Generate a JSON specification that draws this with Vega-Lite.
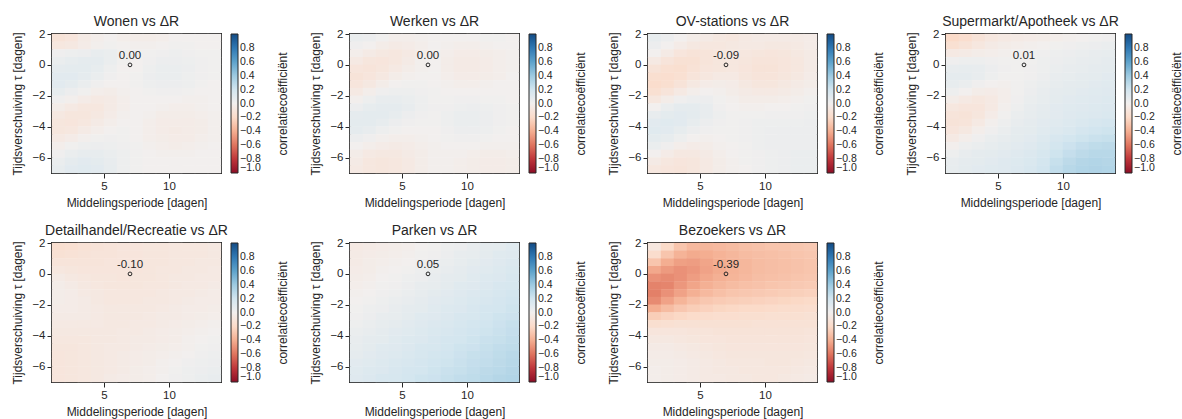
{
  "$schema": "https://vega.github.io/schema/vega-lite/v6.json",
  "padding": {"left": 10, "top": 14, "right": 5, "bottom": 5},
  "background": "white",
  "datasets": {
    "ann": [
      {"p":"W","x":7,"y":0,"t":"0.00"},
      {"p":"K","x":7,"y":0,"t":"0.00"},
      {"p":"O","x":7,"y":0,"t":"-0.09"},
      {"p":"S","x":7,"y":0,"t":"0.01"},
      {"p":"D","x":7,"y":0,"t":"-0.10"},
      {"p":"P","x":7,"y":0,"t":"0.05"},
      {"p":"B","x":7,"y":0,"t":"-0.39"}
    ],
    "grid": [
      {"p":"W","y":1.75,"x":[1.5,2.5,3.5,4.5,5.5,6.5,7.5,8.5,9.5,10.5,11.5,12.5,13.5],"r":[-0.12,-0.10,-0.05,-0.02,0,-0.02,-0.03,-0.03,-0.02,0,0,0,0]},
      {"p":"W","y":1.25,"x":[1.5,2.5,3.5,4.5,5.5,6.5,7.5,8.5,9.5,10.5,11.5,12.5,13.5],"r":[-0.08,-0.07,-0.04,-0.01,0.01,0,-0.01,-0.01,0,0.01,0.01,0,0]},
      {"p":"W","y":0.75,"x":[1.5,2.5,3.5,4.5,5.5,6.5,7.5,8.5,9.5,10.5,11.5,12.5,13.5],"r":[0.02,0.03,0.04,0.06,0.05,0.02,0.01,0.01,0.02,0.03,0.02,0.01,0.01]},
      {"p":"W","y":0.25,"x":[1.5,2.5,3.5,4.5,5.5,6.5,7.5,8.5,9.5,10.5,11.5,12.5,13.5],"r":[0.05,0.07,0.08,0.08,0.05,0.01,0,0.02,0.04,0.04,0.03,0.02,0.01]},
      {"p":"W","y":-0.25,"x":[1.5,2.5,3.5,4.5,5.5,6.5,7.5,8.5,9.5,10.5,11.5,12.5,13.5],"r":[0.08,0.09,0.09,0.07,0.03,0,0,0.03,0.05,0.05,0.04,0.02,0.01]},
      {"p":"W","y":-0.75,"x":[1.5,2.5,3.5,4.5,5.5,6.5,7.5,8.5,9.5,10.5,11.5,12.5,13.5],"r":[0.10,0.10,0.08,0.05,0.02,0,0.01,0.04,0.05,0.05,0.03,0.02,0.01]},
      {"p":"W","y":-1.25,"x":[1.5,2.5,3.5,4.5,5.5,6.5,7.5,8.5,9.5,10.5,11.5,12.5,13.5],"r":[0.10,0.08,0.05,0.02,0,0,0.01,0.03,0.04,0.04,0.03,0.01,0]},
      {"p":"W","y":-1.75,"x":[1.5,2.5,3.5,4.5,5.5,6.5,7.5,8.5,9.5,10.5,11.5,12.5,13.5],"r":[0.07,0.04,0.01,-0.02,-0.03,-0.01,0,0.01,0.02,0.02,0.01,0,0]},
      {"p":"W","y":-2.25,"x":[1.5,2.5,3.5,4.5,5.5,6.5,7.5,8.5,9.5,10.5,11.5,12.5,13.5],"r":[0.02,-0.01,-0.04,-0.06,-0.05,-0.02,0,0,0,0,-0.01,-0.01,0]},
      {"p":"W","y":-2.75,"x":[1.5,2.5,3.5,4.5,5.5,6.5,7.5,8.5,9.5,10.5,11.5,12.5,13.5],"r":[-0.03,-0.06,-0.08,-0.08,-0.05,-0.02,0,0,-0.01,-0.02,-0.02,-0.01,0]},
      {"p":"W","y":-3.25,"x":[1.5,2.5,3.5,4.5,5.5,6.5,7.5,8.5,9.5,10.5,11.5,12.5,13.5],"r":[-0.07,-0.09,-0.09,-0.07,-0.04,-0.01,0,-0.01,-0.03,-0.03,-0.03,-0.02,-0.01]},
      {"p":"W","y":-3.75,"x":[1.5,2.5,3.5,4.5,5.5,6.5,7.5,8.5,9.5,10.5,11.5,12.5,13.5],"r":[-0.09,-0.10,-0.08,-0.05,-0.02,0,0,-0.02,-0.04,-0.04,-0.04,-0.03,-0.01]},
      {"p":"W","y":-4.25,"x":[1.5,2.5,3.5,4.5,5.5,6.5,7.5,8.5,9.5,10.5,11.5,12.5,13.5],"r":[-0.09,-0.08,-0.05,-0.02,0,0.01,0,-0.02,-0.04,-0.05,-0.04,-0.03,-0.01]},
      {"p":"W","y":-4.75,"x":[1.5,2.5,3.5,4.5,5.5,6.5,7.5,8.5,9.5,10.5,11.5,12.5,13.5],"r":[-0.06,-0.04,-0.01,0.01,0.02,0.01,0,-0.02,-0.03,-0.04,-0.04,-0.02,-0.01]},
      {"p":"W","y":-5.25,"x":[1.5,2.5,3.5,4.5,5.5,6.5,7.5,8.5,9.5,10.5,11.5,12.5,13.5],"r":[-0.02,0.01,0.03,0.04,0.03,0.02,0.01,-0.01,-0.02,-0.03,-0.02,-0.01,0]},
      {"p":"W","y":-5.75,"x":[1.5,2.5,3.5,4.5,5.5,6.5,7.5,8.5,9.5,10.5,11.5,12.5,13.5],"r":[0.02,0.05,0.07,0.07,0.05,0.03,0.01,0,-0.01,-0.01,-0.01,0,0]},
      {"p":"W","y":-6.25,"x":[1.5,2.5,3.5,4.5,5.5,6.5,7.5,8.5,9.5,10.5,11.5,12.5,13.5],"r":[0.05,0.08,0.10,0.09,0.06,0.03,0.01,0,0,0,0,0,0]},
      {"p":"W","y":-6.75,"x":[1.5,2.5,3.5,4.5,5.5,6.5,7.5,8.5,9.5,10.5,11.5,12.5,13.5],"r":[0.07,0.10,0.11,0.10,0.07,0.03,0.01,0,0,0,0,0,0]},

      {"p":"K","y":1.75,"x":[1.5,2.5,3.5,4.5,5.5,6.5,7.5,8.5,9.5,10.5,11.5,12.5,13.5],"r":[0.05,0.04,0.01,-0.02,-0.02,-0.01,0,0,0,0,0.01,0.01,0]},
      {"p":"K","y":1.25,"x":[1.5,2.5,3.5,4.5,5.5,6.5,7.5,8.5,9.5,10.5,11.5,12.5,13.5],"r":[0.02,0,-0.03,-0.05,-0.04,-0.02,0,-0.01,-0.02,-0.02,-0.01,0,0]},
      {"p":"K","y":0.75,"x":[1.5,2.5,3.5,4.5,5.5,6.5,7.5,8.5,9.5,10.5,11.5,12.5,13.5],"r":[-0.02,-0.05,-0.07,-0.08,-0.06,-0.03,-0.01,-0.02,-0.04,-0.04,-0.03,-0.02,-0.01]},
      {"p":"K","y":0.25,"x":[1.5,2.5,3.5,4.5,5.5,6.5,7.5,8.5,9.5,10.5,11.5,12.5,13.5],"r":[-0.06,-0.09,-0.10,-0.08,-0.05,-0.01,0,-0.03,-0.05,-0.05,-0.04,-0.02,-0.01]},
      {"p":"K","y":-0.25,"x":[1.5,2.5,3.5,4.5,5.5,6.5,7.5,8.5,9.5,10.5,11.5,12.5,13.5],"r":[-0.10,-0.11,-0.09,-0.06,-0.03,-0.01,0,-0.03,-0.05,-0.05,-0.04,-0.02,-0.01]},
      {"p":"K","y":-0.75,"x":[1.5,2.5,3.5,4.5,5.5,6.5,7.5,8.5,9.5,10.5,11.5,12.5,13.5],"r":[-0.12,-0.10,-0.07,-0.03,-0.01,0,0,-0.02,-0.04,-0.04,-0.03,-0.02,0]},
      {"p":"K","y":-1.25,"x":[1.5,2.5,3.5,4.5,5.5,6.5,7.5,8.5,9.5,10.5,11.5,12.5,13.5],"r":[-0.10,-0.07,-0.03,0,0.01,0.01,0,-0.01,-0.02,-0.02,-0.01,0,0]},
      {"p":"K","y":-1.75,"x":[1.5,2.5,3.5,4.5,5.5,6.5,7.5,8.5,9.5,10.5,11.5,12.5,13.5],"r":[-0.06,-0.02,0.02,0.03,0.03,0.02,0.01,0,0,0,0,0,0]},
      {"p":"K","y":-2.25,"x":[1.5,2.5,3.5,4.5,5.5,6.5,7.5,8.5,9.5,10.5,11.5,12.5,13.5],"r":[-0.01,0.03,0.06,0.06,0.05,0.03,0.01,0.01,0.02,0.02,0.01,0.01,0]},
      {"p":"K","y":-2.75,"x":[1.5,2.5,3.5,4.5,5.5,6.5,7.5,8.5,9.5,10.5,11.5,12.5,13.5],"r":[0.04,0.07,0.08,0.08,0.06,0.03,0.02,0.02,0.03,0.04,0.03,0.02,0.01]},
      {"p":"K","y":-3.25,"x":[1.5,2.5,3.5,4.5,5.5,6.5,7.5,8.5,9.5,10.5,11.5,12.5,13.5],"r":[0.08,0.09,0.09,0.07,0.04,0.02,0.01,0.03,0.05,0.05,0.04,0.02,0.01]},
      {"p":"K","y":-3.75,"x":[1.5,2.5,3.5,4.5,5.5,6.5,7.5,8.5,9.5,10.5,11.5,12.5,13.5],"r":[0.09,0.09,0.07,0.04,0.02,0.01,0.01,0.03,0.05,0.05,0.04,0.02,0.01]},
      {"p":"K","y":-4.25,"x":[1.5,2.5,3.5,4.5,5.5,6.5,7.5,8.5,9.5,10.5,11.5,12.5,13.5],"r":[0.08,0.06,0.03,0.01,0,0,0,0.02,0.04,0.04,0.03,0.01,0]},
      {"p":"K","y":-4.75,"x":[1.5,2.5,3.5,4.5,5.5,6.5,7.5,8.5,9.5,10.5,11.5,12.5,13.5],"r":[0.04,0.02,-0.01,-0.02,-0.02,-0.01,0,0.01,0.02,0.02,0.01,0,0]},
      {"p":"K","y":-5.25,"x":[1.5,2.5,3.5,4.5,5.5,6.5,7.5,8.5,9.5,10.5,11.5,12.5,13.5],"r":[0,-0.02,-0.04,-0.05,-0.04,-0.02,-0.01,0,0,0,-0.01,-0.01,-0.01]},
      {"p":"K","y":-5.75,"x":[1.5,2.5,3.5,4.5,5.5,6.5,7.5,8.5,9.5,10.5,11.5,12.5,13.5],"r":[-0.03,-0.06,-0.07,-0.07,-0.05,-0.03,-0.01,-0.01,-0.01,-0.02,-0.03,-0.03,-0.02]},
      {"p":"K","y":-6.25,"x":[1.5,2.5,3.5,4.5,5.5,6.5,7.5,8.5,9.5,10.5,11.5,12.5,13.5],"r":[-0.05,-0.08,-0.09,-0.08,-0.06,-0.03,-0.01,-0.01,-0.02,-0.03,-0.04,-0.04,-0.03]},
      {"p":"K","y":-6.75,"x":[1.5,2.5,3.5,4.5,5.5,6.5,7.5,8.5,9.5,10.5,11.5,12.5,13.5],"r":[-0.06,-0.08,-0.09,-0.08,-0.06,-0.03,-0.01,-0.01,-0.02,-0.03,-0.04,-0.04,-0.03]},

      {"p":"O","y":1.75,"x":[1.5,2.5,3.5,4.5,5.5,6.5,7.5,8.5,9.5,10.5,11.5,12.5,13.5],"r":[0.07,0.04,0,-0.03,-0.05,-0.07,-0.08,-0.06,-0.05,-0.05,-0.05,-0.05,-0.04]},
      {"p":"O","y":1.25,"x":[1.5,2.5,3.5,4.5,5.5,6.5,7.5,8.5,9.5,10.5,11.5,12.5,13.5],"r":[0.04,0,-0.04,-0.07,-0.08,-0.08,-0.07,-0.06,-0.06,-0.07,-0.07,-0.06,-0.04]},
      {"p":"O","y":0.75,"x":[1.5,2.5,3.5,4.5,5.5,6.5,7.5,8.5,9.5,10.5,11.5,12.5,13.5],"r":[0,-0.05,-0.10,-0.12,-0.11,-0.09,-0.07,-0.08,-0.09,-0.10,-0.09,-0.07,-0.05]},
      {"p":"O","y":0.25,"x":[1.5,2.5,3.5,4.5,5.5,6.5,7.5,8.5,9.5,10.5,11.5,12.5,13.5],"r":[-0.06,-0.11,-0.14,-0.14,-0.11,-0.09,-0.08,-0.09,-0.11,-0.11,-0.10,-0.08,-0.05]},
      {"p":"O","y":-0.25,"x":[1.5,2.5,3.5,4.5,5.5,6.5,7.5,8.5,9.5,10.5,11.5,12.5,13.5],"r":[-0.12,-0.15,-0.16,-0.13,-0.10,-0.09,-0.08,-0.10,-0.12,-0.12,-0.10,-0.08,-0.05]},
      {"p":"O","y":-0.75,"x":[1.5,2.5,3.5,4.5,5.5,6.5,7.5,8.5,9.5,10.5,11.5,12.5,13.5],"r":[-0.16,-0.17,-0.15,-0.11,-0.08,-0.06,-0.06,-0.09,-0.11,-0.11,-0.09,-0.07,-0.04]},
      {"p":"O","y":-1.25,"x":[1.5,2.5,3.5,4.5,5.5,6.5,7.5,8.5,9.5,10.5,11.5,12.5,13.5],"r":[-0.18,-0.16,-0.12,-0.07,-0.04,-0.03,-0.04,-0.07,-0.09,-0.09,-0.07,-0.05,-0.03]},
      {"p":"O","y":-1.75,"x":[1.5,2.5,3.5,4.5,5.5,6.5,7.5,8.5,9.5,10.5,11.5,12.5,13.5],"r":[-0.15,-0.11,-0.06,-0.02,0,-0.01,-0.03,-0.05,-0.06,-0.06,-0.05,-0.03,-0.01]},
      {"p":"O","y":-2.25,"x":[1.5,2.5,3.5,4.5,5.5,6.5,7.5,8.5,9.5,10.5,11.5,12.5,13.5],"r":[-0.08,-0.03,0.02,0.04,0.04,0.01,-0.01,-0.03,-0.03,-0.03,-0.02,-0.01,0.01]},
      {"p":"O","y":-2.75,"x":[1.5,2.5,3.5,4.5,5.5,6.5,7.5,8.5,9.5,10.5,11.5,12.5,13.5],"r":[0,0.05,0.08,0.08,0.06,0.02,0,-0.01,-0.01,0,0,0.01,0.02]},
      {"p":"O","y":-3.25,"x":[1.5,2.5,3.5,4.5,5.5,6.5,7.5,8.5,9.5,10.5,11.5,12.5,13.5],"r":[0.06,0.09,0.10,0.09,0.06,0.03,0.01,0.01,0.01,0.02,0.02,0.02,0.03]},
      {"p":"O","y":-3.75,"x":[1.5,2.5,3.5,4.5,5.5,6.5,7.5,8.5,9.5,10.5,11.5,12.5,13.5],"r":[0.10,0.11,0.10,0.07,0.04,0.02,0.01,0.02,0.03,0.03,0.03,0.03,0.04]},
      {"p":"O","y":-4.25,"x":[1.5,2.5,3.5,4.5,5.5,6.5,7.5,8.5,9.5,10.5,11.5,12.5,13.5],"r":[0.11,0.10,0.07,0.04,0.02,0.01,0.01,0.02,0.03,0.04,0.04,0.04,0.04]},
      {"p":"O","y":-4.75,"x":[1.5,2.5,3.5,4.5,5.5,6.5,7.5,8.5,9.5,10.5,11.5,12.5,13.5],"r":[0.09,0.07,0.03,0,-0.01,0,0.01,0.02,0.03,0.04,0.04,0.04,0.04]},
      {"p":"O","y":-5.25,"x":[1.5,2.5,3.5,4.5,5.5,6.5,7.5,8.5,9.5,10.5,11.5,12.5,13.5],"r":[0.05,0.02,-0.02,-0.04,-0.03,-0.01,0,0.01,0.03,0.04,0.04,0.04,0.04]},
      {"p":"O","y":-5.75,"x":[1.5,2.5,3.5,4.5,5.5,6.5,7.5,8.5,9.5,10.5,11.5,12.5,13.5],"r":[0,-0.04,-0.07,-0.07,-0.05,-0.02,0,0.01,0.02,0.03,0.04,0.05,0.05]},
      {"p":"O","y":-6.25,"x":[1.5,2.5,3.5,4.5,5.5,6.5,7.5,8.5,9.5,10.5,11.5,12.5,13.5],"r":[-0.05,-0.08,-0.10,-0.09,-0.06,-0.03,-0.01,0.01,0.02,0.03,0.04,0.05,0.05]},
      {"p":"O","y":-6.75,"x":[1.5,2.5,3.5,4.5,5.5,6.5,7.5,8.5,9.5,10.5,11.5,12.5,13.5],"r":[-0.08,-0.10,-0.11,-0.09,-0.06,-0.03,-0.01,0,0.02,0.03,0.04,0.05,0.05]},

      {"p":"S","y":1.75,"x":[1.5,2.5,3.5,4.5,5.5,6.5,7.5,8.5,9.5,10.5,11.5,12.5,13.5],"r":[-0.20,-0.17,-0.12,-0.08,-0.06,-0.05,-0.04,-0.03,-0.02,-0.01,0,0.01,0.02]},
      {"p":"S","y":1.25,"x":[1.5,2.5,3.5,4.5,5.5,6.5,7.5,8.5,9.5,10.5,11.5,12.5,13.5],"r":[-0.15,-0.12,-0.08,-0.05,-0.03,-0.02,-0.01,0,0.01,0.02,0.03,0.04,0.05]},
      {"p":"S","y":0.75,"x":[1.5,2.5,3.5,4.5,5.5,6.5,7.5,8.5,9.5,10.5,11.5,12.5,13.5],"r":[-0.06,-0.05,-0.03,-0.02,-0.01,0,0.01,0.02,0.03,0.04,0.05,0.06,0.07]},
      {"p":"S","y":0.25,"x":[1.5,2.5,3.5,4.5,5.5,6.5,7.5,8.5,9.5,10.5,11.5,12.5,13.5],"r":[0.02,0.03,0.03,0.02,0.01,0.01,0.01,0.03,0.04,0.05,0.06,0.07,0.08]},
      {"p":"S","y":-0.25,"x":[1.5,2.5,3.5,4.5,5.5,6.5,7.5,8.5,9.5,10.5,11.5,12.5,13.5],"r":[0.06,0.07,0.06,0.04,0.02,0.01,0.02,0.03,0.05,0.06,0.07,0.08,0.09]},
      {"p":"S","y":-0.75,"x":[1.5,2.5,3.5,4.5,5.5,6.5,7.5,8.5,9.5,10.5,11.5,12.5,13.5],"r":[0.08,0.08,0.06,0.03,0.01,0.01,0.02,0.04,0.06,0.07,0.08,0.09,0.10]},
      {"p":"S","y":-1.25,"x":[1.5,2.5,3.5,4.5,5.5,6.5,7.5,8.5,9.5,10.5,11.5,12.5,13.5],"r":[0.07,0.05,0.02,0,-0.01,0.01,0.03,0.05,0.07,0.08,0.09,0.10,0.11]},
      {"p":"S","y":-1.75,"x":[1.5,2.5,3.5,4.5,5.5,6.5,7.5,8.5,9.5,10.5,11.5,12.5,13.5],"r":[0.03,0,-0.03,-0.04,-0.02,0.01,0.04,0.06,0.08,0.09,0.10,0.11,0.12]},
      {"p":"S","y":-2.25,"x":[1.5,2.5,3.5,4.5,5.5,6.5,7.5,8.5,9.5,10.5,11.5,12.5,13.5],"r":[-0.03,-0.06,-0.08,-0.06,-0.02,0.02,0.05,0.07,0.09,0.10,0.11,0.12,0.13]},
      {"p":"S","y":-2.75,"x":[1.5,2.5,3.5,4.5,5.5,6.5,7.5,8.5,9.5,10.5,11.5,12.5,13.5],"r":[-0.08,-0.10,-0.10,-0.06,-0.01,0.03,0.06,0.08,0.10,0.11,0.12,0.13,0.14]},
      {"p":"S","y":-3.25,"x":[1.5,2.5,3.5,4.5,5.5,6.5,7.5,8.5,9.5,10.5,11.5,12.5,13.5],"r":[-0.11,-0.12,-0.09,-0.04,0.01,0.05,0.07,0.09,0.10,0.12,0.13,0.14,0.15]},
      {"p":"S","y":-3.75,"x":[1.5,2.5,3.5,4.5,5.5,6.5,7.5,8.5,9.5,10.5,11.5,12.5,13.5],"r":[-0.12,-0.11,-0.06,-0.01,0.03,0.06,0.08,0.10,0.11,0.13,0.15,0.17,0.18]},
      {"p":"S","y":-4.25,"x":[1.5,2.5,3.5,4.5,5.5,6.5,7.5,8.5,9.5,10.5,11.5,12.5,13.5],"r":[-0.10,-0.07,-0.02,0.02,0.05,0.08,0.09,0.11,0.13,0.15,0.18,0.20,0.21]},
      {"p":"S","y":-4.75,"x":[1.5,2.5,3.5,4.5,5.5,6.5,7.5,8.5,9.5,10.5,11.5,12.5,13.5],"r":[-0.06,-0.02,0.02,0.05,0.07,0.09,0.10,0.13,0.16,0.19,0.21,0.23,0.24]},
      {"p":"S","y":-5.25,"x":[1.5,2.5,3.5,4.5,5.5,6.5,7.5,8.5,9.5,10.5,11.5,12.5,13.5],"r":[-0.01,0.03,0.05,0.07,0.09,0.10,0.12,0.15,0.19,0.22,0.25,0.27,0.28]},
      {"p":"S","y":-5.75,"x":[1.5,2.5,3.5,4.5,5.5,6.5,7.5,8.5,9.5,10.5,11.5,12.5,13.5],"r":[0.03,0.06,0.08,0.09,0.10,0.12,0.14,0.17,0.21,0.25,0.28,0.30,0.30]},
      {"p":"S","y":-6.25,"x":[1.5,2.5,3.5,4.5,5.5,6.5,7.5,8.5,9.5,10.5,11.5,12.5,13.5],"r":[0.06,0.08,0.09,0.10,0.12,0.13,0.15,0.19,0.24,0.28,0.31,0.32,0.31]},
      {"p":"S","y":-6.75,"x":[1.5,2.5,3.5,4.5,5.5,6.5,7.5,8.5,9.5,10.5,11.5,12.5,13.5],"r":[0.07,0.09,0.10,0.11,0.12,0.14,0.16,0.20,0.26,0.30,0.32,0.33,0.32]},

      {"p":"D","y":1.75,"x":[1.5,2.5,3.5,4.5,5.5,6.5,7.5,8.5,9.5,10.5,11.5,12.5,13.5],"r":[-0.16,-0.15,-0.13,-0.12,-0.11,-0.10,-0.10,-0.09,-0.09,-0.08,-0.08,-0.08,-0.07]},
      {"p":"D","y":1.25,"x":[1.5,2.5,3.5,4.5,5.5,6.5,7.5,8.5,9.5,10.5,11.5,12.5,13.5],"r":[-0.14,-0.13,-0.12,-0.11,-0.11,-0.10,-0.10,-0.09,-0.09,-0.08,-0.08,-0.08,-0.07]},
      {"p":"D","y":0.75,"x":[1.5,2.5,3.5,4.5,5.5,6.5,7.5,8.5,9.5,10.5,11.5,12.5,13.5],"r":[-0.11,-0.11,-0.11,-0.11,-0.10,-0.10,-0.10,-0.09,-0.09,-0.08,-0.08,-0.07,-0.07]},
      {"p":"D","y":0.25,"x":[1.5,2.5,3.5,4.5,5.5,6.5,7.5,8.5,9.5,10.5,11.5,12.5,13.5],"r":[-0.08,-0.09,-0.10,-0.10,-0.10,-0.10,-0.10,-0.09,-0.08,-0.08,-0.07,-0.07,-0.06]},
      {"p":"D","y":-0.25,"x":[1.5,2.5,3.5,4.5,5.5,6.5,7.5,8.5,9.5,10.5,11.5,12.5,13.5],"r":[-0.05,-0.07,-0.08,-0.09,-0.09,-0.10,-0.09,-0.09,-0.08,-0.07,-0.07,-0.06,-0.06]},
      {"p":"D","y":-0.75,"x":[1.5,2.5,3.5,4.5,5.5,6.5,7.5,8.5,9.5,10.5,11.5,12.5,13.5],"r":[-0.03,-0.05,-0.07,-0.08,-0.09,-0.09,-0.09,-0.08,-0.08,-0.07,-0.06,-0.06,-0.05]},
      {"p":"D","y":-1.25,"x":[1.5,2.5,3.5,4.5,5.5,6.5,7.5,8.5,9.5,10.5,11.5,12.5,13.5],"r":[-0.03,-0.04,-0.06,-0.07,-0.08,-0.08,-0.08,-0.08,-0.07,-0.06,-0.06,-0.05,-0.04]},
      {"p":"D","y":-1.75,"x":[1.5,2.5,3.5,4.5,5.5,6.5,7.5,8.5,9.5,10.5,11.5,12.5,13.5],"r":[-0.03,-0.04,-0.05,-0.07,-0.08,-0.08,-0.08,-0.07,-0.07,-0.06,-0.05,-0.04,-0.04]},
      {"p":"D","y":-2.25,"x":[1.5,2.5,3.5,4.5,5.5,6.5,7.5,8.5,9.5,10.5,11.5,12.5,13.5],"r":[-0.04,-0.04,-0.05,-0.06,-0.07,-0.07,-0.07,-0.07,-0.06,-0.05,-0.04,-0.04,-0.03]},
      {"p":"D","y":-2.75,"x":[1.5,2.5,3.5,4.5,5.5,6.5,7.5,8.5,9.5,10.5,11.5,12.5,13.5],"r":[-0.05,-0.05,-0.05,-0.06,-0.07,-0.07,-0.07,-0.06,-0.05,-0.05,-0.04,-0.03,-0.02]},
      {"p":"D","y":-3.25,"x":[1.5,2.5,3.5,4.5,5.5,6.5,7.5,8.5,9.5,10.5,11.5,12.5,13.5],"r":[-0.06,-0.06,-0.06,-0.06,-0.07,-0.07,-0.06,-0.06,-0.05,-0.04,-0.03,-0.02,-0.01]},
      {"p":"D","y":-3.75,"x":[1.5,2.5,3.5,4.5,5.5,6.5,7.5,8.5,9.5,10.5,11.5,12.5,13.5],"r":[-0.07,-0.07,-0.07,-0.07,-0.07,-0.06,-0.06,-0.05,-0.04,-0.03,-0.02,-0.01,0]},
      {"p":"D","y":-4.25,"x":[1.5,2.5,3.5,4.5,5.5,6.5,7.5,8.5,9.5,10.5,11.5,12.5,13.5],"r":[-0.08,-0.08,-0.08,-0.07,-0.07,-0.06,-0.05,-0.05,-0.04,-0.03,-0.01,0,0.01]},
      {"p":"D","y":-4.75,"x":[1.5,2.5,3.5,4.5,5.5,6.5,7.5,8.5,9.5,10.5,11.5,12.5,13.5],"r":[-0.09,-0.09,-0.08,-0.07,-0.06,-0.06,-0.05,-0.04,-0.03,-0.02,-0.01,0.01,0.02]},
      {"p":"D","y":-5.25,"x":[1.5,2.5,3.5,4.5,5.5,6.5,7.5,8.5,9.5,10.5,11.5,12.5,13.5],"r":[-0.10,-0.09,-0.08,-0.07,-0.06,-0.05,-0.04,-0.03,-0.02,-0.01,0,0.02,0.03]},
      {"p":"D","y":-5.75,"x":[1.5,2.5,3.5,4.5,5.5,6.5,7.5,8.5,9.5,10.5,11.5,12.5,13.5],"r":[-0.10,-0.09,-0.08,-0.07,-0.06,-0.05,-0.04,-0.03,-0.01,0,0.02,0.03,0.04]},
      {"p":"D","y":-6.25,"x":[1.5,2.5,3.5,4.5,5.5,6.5,7.5,8.5,9.5,10.5,11.5,12.5,13.5],"r":[-0.10,-0.09,-0.08,-0.07,-0.06,-0.05,-0.03,-0.02,-0.01,0.01,0.03,0.04,0.05]},
      {"p":"D","y":-6.75,"x":[1.5,2.5,3.5,4.5,5.5,6.5,7.5,8.5,9.5,10.5,11.5,12.5,13.5],"r":[-0.10,-0.09,-0.08,-0.07,-0.05,-0.04,-0.03,-0.02,0,0.02,0.03,0.05,0.06]},

      {"p":"P","y":1.75,"x":[1.5,2.5,3.5,4.5,5.5,6.5,7.5,8.5,9.5,10.5,11.5,12.5,13.5],"r":[-0.06,-0.05,-0.04,-0.03,-0.02,0,0.01,0.03,0.04,0.06,0.08,0.09,0.11]},
      {"p":"P","y":1.25,"x":[1.5,2.5,3.5,4.5,5.5,6.5,7.5,8.5,9.5,10.5,11.5,12.5,13.5],"r":[-0.05,-0.04,-0.03,-0.02,-0.01,0.01,0.02,0.04,0.06,0.07,0.09,0.11,0.12]},
      {"p":"P","y":0.75,"x":[1.5,2.5,3.5,4.5,5.5,6.5,7.5,8.5,9.5,10.5,11.5,12.5,13.5],"r":[-0.05,-0.03,-0.02,-0.01,0,0.02,0.04,0.05,0.07,0.09,0.10,0.12,0.14]},
      {"p":"P","y":0.25,"x":[1.5,2.5,3.5,4.5,5.5,6.5,7.5,8.5,9.5,10.5,11.5,12.5,13.5],"r":[-0.04,-0.03,-0.01,0,0.01,0.03,0.05,0.06,0.08,0.10,0.11,0.13,0.15]},
      {"p":"P","y":-0.25,"x":[1.5,2.5,3.5,4.5,5.5,6.5,7.5,8.5,9.5,10.5,11.5,12.5,13.5],"r":[-0.03,-0.02,0,0.01,0.03,0.04,0.06,0.08,0.09,0.11,0.13,0.14,0.16]},
      {"p":"P","y":-0.75,"x":[1.5,2.5,3.5,4.5,5.5,6.5,7.5,8.5,9.5,10.5,11.5,12.5,13.5],"r":[-0.02,-0.01,0.01,0.02,0.04,0.06,0.07,0.09,0.11,0.12,0.14,0.16,0.17]},
      {"p":"P","y":-1.25,"x":[1.5,2.5,3.5,4.5,5.5,6.5,7.5,8.5,9.5,10.5,11.5,12.5,13.5],"r":[-0.01,0,0.02,0.03,0.05,0.07,0.09,0.10,0.12,0.14,0.15,0.17,0.19]},
      {"p":"P","y":-1.75,"x":[1.5,2.5,3.5,4.5,5.5,6.5,7.5,8.5,9.5,10.5,11.5,12.5,13.5],"r":[0,0.01,0.03,0.05,0.06,0.08,0.10,0.11,0.13,0.15,0.16,0.18,0.20]},
      {"p":"P","y":-2.25,"x":[1.5,2.5,3.5,4.5,5.5,6.5,7.5,8.5,9.5,10.5,11.5,12.5,13.5],"r":[0.01,0.03,0.04,0.06,0.08,0.09,0.11,0.13,0.14,0.16,0.18,0.19,0.21]},
      {"p":"P","y":-2.75,"x":[1.5,2.5,3.5,4.5,5.5,6.5,7.5,8.5,9.5,10.5,11.5,12.5,13.5],"r":[0.02,0.04,0.06,0.07,0.09,0.11,0.12,0.14,0.16,0.17,0.19,0.21,0.22]},
      {"p":"P","y":-3.25,"x":[1.5,2.5,3.5,4.5,5.5,6.5,7.5,8.5,9.5,10.5,11.5,12.5,13.5],"r":[0.03,0.05,0.07,0.08,0.10,0.12,0.14,0.15,0.17,0.19,0.20,0.22,0.24]},
      {"p":"P","y":-3.75,"x":[1.5,2.5,3.5,4.5,5.5,6.5,7.5,8.5,9.5,10.5,11.5,12.5,13.5],"r":[0.05,0.06,0.08,0.10,0.11,0.13,0.15,0.16,0.18,0.20,0.21,0.23,0.25]},
      {"p":"P","y":-4.25,"x":[1.5,2.5,3.5,4.5,5.5,6.5,7.5,8.5,9.5,10.5,11.5,12.5,13.5],"r":[0.06,0.08,0.09,0.11,0.13,0.14,0.16,0.18,0.19,0.21,0.23,0.24,0.26]},
      {"p":"P","y":-4.75,"x":[1.5,2.5,3.5,4.5,5.5,6.5,7.5,8.5,9.5,10.5,11.5,12.5,13.5],"r":[0.07,0.09,0.11,0.12,0.14,0.16,0.17,0.19,0.21,0.22,0.24,0.26,0.27]},
      {"p":"P","y":-5.25,"x":[1.5,2.5,3.5,4.5,5.5,6.5,7.5,8.5,9.5,10.5,11.5,12.5,13.5],"r":[0.08,0.10,0.12,0.13,0.15,0.17,0.19,0.20,0.22,0.24,0.25,0.27,0.29]},
      {"p":"P","y":-5.75,"x":[1.5,2.5,3.5,4.5,5.5,6.5,7.5,8.5,9.5,10.5,11.5,12.5,13.5],"r":[0.10,0.11,0.13,0.15,0.16,0.18,0.20,0.21,0.23,0.25,0.26,0.28,0.30]},
      {"p":"P","y":-6.25,"x":[1.5,2.5,3.5,4.5,5.5,6.5,7.5,8.5,9.5,10.5,11.5,12.5,13.5],"r":[0.11,0.13,0.14,0.16,0.18,0.19,0.21,0.23,0.24,0.26,0.28,0.29,0.31]},
      {"p":"P","y":-6.75,"x":[1.5,2.5,3.5,4.5,5.5,6.5,7.5,8.5,9.5,10.5,11.5,12.5,13.5],"r":[0.12,0.14,0.16,0.17,0.19,0.21,0.22,0.24,0.26,0.27,0.29,0.31,0.32]},

      {"p":"B","y":1.75,"x":[1.5,2.5,3.5,4.5,5.5,6.5,7.5,8.5,9.5,10.5,11.5,12.5,13.5],"r":[-0.08,-0.20,-0.30,-0.35,-0.36,-0.35,-0.34,-0.32,-0.31,-0.30,-0.30,-0.29,-0.28]},
      {"p":"B","y":1.25,"x":[1.5,2.5,3.5,4.5,5.5,6.5,7.5,8.5,9.5,10.5,11.5,12.5,13.5],"r":[-0.18,-0.30,-0.38,-0.41,-0.40,-0.38,-0.36,-0.34,-0.33,-0.32,-0.31,-0.30,-0.29]},
      {"p":"B","y":0.75,"x":[1.5,2.5,3.5,4.5,5.5,6.5,7.5,8.5,9.5,10.5,11.5,12.5,13.5],"r":[-0.30,-0.40,-0.45,-0.46,-0.43,-0.40,-0.38,-0.36,-0.34,-0.33,-0.32,-0.31,-0.30]},
      {"p":"B","y":0.25,"x":[1.5,2.5,3.5,4.5,5.5,6.5,7.5,8.5,9.5,10.5,11.5,12.5,13.5],"r":[-0.42,-0.47,-0.50,-0.48,-0.44,-0.41,-0.38,-0.36,-0.34,-0.33,-0.32,-0.31,-0.30]},
      {"p":"B","y":-0.25,"x":[1.5,2.5,3.5,4.5,5.5,6.5,7.5,8.5,9.5,10.5,11.5,12.5,13.5],"r":[-0.50,-0.52,-0.50,-0.46,-0.42,-0.39,-0.37,-0.35,-0.33,-0.32,-0.31,-0.30,-0.29]},
      {"p":"B","y":-0.75,"x":[1.5,2.5,3.5,4.5,5.5,6.5,7.5,8.5,9.5,10.5,11.5,12.5,13.5],"r":[-0.55,-0.54,-0.48,-0.43,-0.39,-0.36,-0.34,-0.32,-0.31,-0.30,-0.29,-0.28,-0.27]},
      {"p":"B","y":-1.25,"x":[1.5,2.5,3.5,4.5,5.5,6.5,7.5,8.5,9.5,10.5,11.5,12.5,13.5],"r":[-0.56,-0.50,-0.44,-0.39,-0.35,-0.32,-0.30,-0.29,-0.28,-0.27,-0.26,-0.25,-0.24]},
      {"p":"B","y":-1.75,"x":[1.5,2.5,3.5,4.5,5.5,6.5,7.5,8.5,9.5,10.5,11.5,12.5,13.5],"r":[-0.52,-0.44,-0.37,-0.32,-0.29,-0.27,-0.26,-0.25,-0.24,-0.23,-0.22,-0.21,-0.20]},
      {"p":"B","y":-2.25,"x":[1.5,2.5,3.5,4.5,5.5,6.5,7.5,8.5,9.5,10.5,11.5,12.5,13.5],"r":[-0.40,-0.34,-0.29,-0.26,-0.24,-0.22,-0.21,-0.20,-0.20,-0.19,-0.18,-0.18,-0.17]},
      {"p":"B","y":-2.75,"x":[1.5,2.5,3.5,4.5,5.5,6.5,7.5,8.5,9.5,10.5,11.5,12.5,13.5],"r":[-0.26,-0.23,-0.21,-0.19,-0.18,-0.17,-0.17,-0.16,-0.16,-0.15,-0.15,-0.15,-0.14]},
      {"p":"B","y":-3.25,"x":[1.5,2.5,3.5,4.5,5.5,6.5,7.5,8.5,9.5,10.5,11.5,12.5,13.5],"r":[-0.16,-0.15,-0.14,-0.14,-0.14,-0.14,-0.14,-0.14,-0.13,-0.13,-0.13,-0.13,-0.13]},
      {"p":"B","y":-3.75,"x":[1.5,2.5,3.5,4.5,5.5,6.5,7.5,8.5,9.5,10.5,11.5,12.5,13.5],"r":[-0.10,-0.10,-0.10,-0.11,-0.11,-0.12,-0.12,-0.12,-0.12,-0.12,-0.12,-0.12,-0.11]},
      {"p":"B","y":-4.25,"x":[1.5,2.5,3.5,4.5,5.5,6.5,7.5,8.5,9.5,10.5,11.5,12.5,13.5],"r":[-0.07,-0.07,-0.08,-0.09,-0.10,-0.10,-0.11,-0.11,-0.11,-0.11,-0.11,-0.11,-0.10]},
      {"p":"B","y":-4.75,"x":[1.5,2.5,3.5,4.5,5.5,6.5,7.5,8.5,9.5,10.5,11.5,12.5,13.5],"r":[-0.05,-0.05,-0.06,-0.07,-0.08,-0.09,-0.10,-0.10,-0.10,-0.10,-0.10,-0.10,-0.09]},
      {"p":"B","y":-5.25,"x":[1.5,2.5,3.5,4.5,5.5,6.5,7.5,8.5,9.5,10.5,11.5,12.5,13.5],"r":[-0.04,-0.04,-0.05,-0.06,-0.07,-0.08,-0.09,-0.09,-0.09,-0.09,-0.09,-0.09,-0.08]},
      {"p":"B","y":-5.75,"x":[1.5,2.5,3.5,4.5,5.5,6.5,7.5,8.5,9.5,10.5,11.5,12.5,13.5],"r":[-0.03,-0.03,-0.04,-0.05,-0.06,-0.07,-0.08,-0.08,-0.08,-0.09,-0.09,-0.08,-0.07]},
      {"p":"B","y":-6.25,"x":[1.5,2.5,3.5,4.5,5.5,6.5,7.5,8.5,9.5,10.5,11.5,12.5,13.5],"r":[-0.02,-0.03,-0.04,-0.05,-0.06,-0.07,-0.07,-0.08,-0.08,-0.08,-0.08,-0.07,-0.06]},
      {"p":"B","y":-6.75,"x":[1.5,2.5,3.5,4.5,5.5,6.5,7.5,8.5,9.5,10.5,11.5,12.5,13.5],"r":[-0.02,-0.03,-0.04,-0.05,-0.06,-0.06,-0.07,-0.07,-0.08,-0.08,-0.07,-0.06,-0.05]}
    ]
  },
  "config": {
    "font": "Liberation Sans",
    "view": {"stroke": "#262626", "strokeWidth": 2},
    "rect": {"width": 13.4, "height": 8.1},
    "axis": {"labelFont": "Liberation Sans", "labelFontSize": 11.5, "labelColor": "#262626", "titleFont": "Liberation Sans", "titleFontSize": 12, "titleFontWeight": "normal", "titleColor": "#262626", "tickColor": "#262626", "tickSize": 5, "tickWidth": 1, "domainColor": "#262626", "domainWidth": 1.2, "grid": false, "zindex": 1, "labelPadding": 2, "labelFlush": false, "labelOverlap": false, "format": "d"},
    "axisX": {"titlePadding": 6},
    "axisY": {"titlePadding": 7},
    "legend": {"labelFont": "Liberation Sans", "labelFontSize": 10.5, "labelColor": "#262626", "titleFont": "Liberation Sans", "titleFontSize": 12, "titleFontWeight": "normal", "titleColor": "#262626", "gradientLength": 139, "gradientThickness": 7, "offset": 10, "titleOrient": "right", "titleAnchor": "middle", "gradientStrokeColor": "#262626", "gradientStrokeWidth": 1, "labelOverlap": false, "labelBaseline": "middle", "labelOffset": 4, "titlePadding": 17},
    "title": {"font": "Liberation Sans", "fontSize": 14, "fontWeight": "normal", "color": "#262626", "frame": "group", "anchor": "middle", "offset": -1}
  },
  "columns": 4,
  "bounds": "flush",
  "spacing": {"row": 70, "column": 129},
  "resolve": {"scale": {"color": "independent"}, "legend": {"color": "independent"}},
  "concat": [
    {"width":169,"height":139,"title":"Wonen vs ΔR","layer":[
      {"data":{"name":"grid"},"transform":[{"filter":"datum.p==='W'"},{"flatten":["x","r"]}],
       "mark":{"type":"rect"},
       "encoding":{
         "x":{"field":"x","type":"quantitative","title":"Middelingsperiode [dagen]","scale":{"domain":[1,14],"nice":false,"zero":false},"axis":{"values":[5,10],"labelOverlap":false}},
         "y":{"field":"y","type":"quantitative","title":"Tijdsverschuiving τ [dagen]","scale":{"domain":[-7,2],"nice":false,"zero":false},"axis":{"values":[-6,-4,-2,0,2],"labelOverlap":false,"tickCount":5}},
         "color":{"field":"r","type":"quantitative","scale":{"scheme":"redblue","domain":[-1,1]},"legend":{"type":"gradient","title":"correlatiecoëfficiënt","values":[-1,-0.8,-0.6,-0.4,-0.2,0,0.2,0.4,0.6,0.8],"format":".1f","encode":{"title":{"update":{"angle":{"value":-90},"baseline":{"value":"top"}}}}}}}},
      {"data":{"name":"ann"},"transform":[{"filter":"datum.p==='W'"}],"mark":{"type":"point","shape":"circle","size":14,"filled":false,"color":"#262626","strokeWidth":1,"opacity":1},
       "encoding":{"x":{"field":"x","type":"quantitative","title":"Middelingsperiode [dagen]"},"y":{"field":"y","type":"quantitative","title":"Tijdsverschuiving τ [dagen]"}}},
      {"data":{"name":"ann"},"transform":[{"filter":"datum.p==='W'"}],"mark":{"type":"text","dy":-9,"fontSize":11.5,"color":"#262626"},
       "encoding":{"x":{"field":"x","type":"quantitative","title":"Middelingsperiode [dagen]"},"y":{"field":"y","type":"quantitative","title":"Tijdsverschuiving τ [dagen]"},"text":{"field":"t"}}}
    ]},
    {"width":169,"height":139,"title":"Werken vs ΔR","layer":[
      {"data":{"name":"grid"},"transform":[{"filter":"datum.p==='K'"},{"flatten":["x","r"]}],
       "mark":{"type":"rect"},
       "encoding":{
         "x":{"field":"x","type":"quantitative","title":"Middelingsperiode [dagen]","scale":{"domain":[1,14],"nice":false,"zero":false},"axis":{"values":[5,10],"labelOverlap":false}},
         "y":{"field":"y","type":"quantitative","title":"Tijdsverschuiving τ [dagen]","scale":{"domain":[-7,2],"nice":false,"zero":false},"axis":{"values":[-6,-4,-2,0,2],"labelOverlap":false,"tickCount":5}},
         "color":{"field":"r","type":"quantitative","scale":{"scheme":"redblue","domain":[-1,1]},"legend":{"type":"gradient","title":"correlatiecoëfficiënt","values":[-1,-0.8,-0.6,-0.4,-0.2,0,0.2,0.4,0.6,0.8],"format":".1f","encode":{"title":{"update":{"angle":{"value":-90},"baseline":{"value":"top"}}}}}}}},
      {"data":{"name":"ann"},"transform":[{"filter":"datum.p==='K'"}],"mark":{"type":"point","shape":"circle","size":14,"filled":false,"color":"#262626","strokeWidth":1,"opacity":1},
       "encoding":{"x":{"field":"x","type":"quantitative","title":"Middelingsperiode [dagen]"},"y":{"field":"y","type":"quantitative","title":"Tijdsverschuiving τ [dagen]"}}},
      {"data":{"name":"ann"},"transform":[{"filter":"datum.p==='K'"}],"mark":{"type":"text","dy":-9,"fontSize":11.5,"color":"#262626"},
       "encoding":{"x":{"field":"x","type":"quantitative","title":"Middelingsperiode [dagen]"},"y":{"field":"y","type":"quantitative","title":"Tijdsverschuiving τ [dagen]"},"text":{"field":"t"}}}
    ]},
    {"width":169,"height":139,"title":"OV-stations vs ΔR","layer":[
      {"data":{"name":"grid"},"transform":[{"filter":"datum.p==='O'"},{"flatten":["x","r"]}],
       "mark":{"type":"rect"},
       "encoding":{
         "x":{"field":"x","type":"quantitative","title":"Middelingsperiode [dagen]","scale":{"domain":[1,14],"nice":false,"zero":false},"axis":{"values":[5,10],"labelOverlap":false}},
         "y":{"field":"y","type":"quantitative","title":"Tijdsverschuiving τ [dagen]","scale":{"domain":[-7,2],"nice":false,"zero":false},"axis":{"values":[-6,-4,-2,0,2],"labelOverlap":false,"tickCount":5}},
         "color":{"field":"r","type":"quantitative","scale":{"scheme":"redblue","domain":[-1,1]},"legend":{"type":"gradient","title":"correlatiecoëfficiënt","values":[-1,-0.8,-0.6,-0.4,-0.2,0,0.2,0.4,0.6,0.8],"format":".1f","encode":{"title":{"update":{"angle":{"value":-90},"baseline":{"value":"top"}}}}}}}},
      {"data":{"name":"ann"},"transform":[{"filter":"datum.p==='O'"}],"mark":{"type":"point","shape":"circle","size":14,"filled":false,"color":"#262626","strokeWidth":1,"opacity":1},
       "encoding":{"x":{"field":"x","type":"quantitative","title":"Middelingsperiode [dagen]"},"y":{"field":"y","type":"quantitative","title":"Tijdsverschuiving τ [dagen]"}}},
      {"data":{"name":"ann"},"transform":[{"filter":"datum.p==='O'"}],"mark":{"type":"text","dy":-9,"fontSize":11.5,"color":"#262626"},
       "encoding":{"x":{"field":"x","type":"quantitative","title":"Middelingsperiode [dagen]"},"y":{"field":"y","type":"quantitative","title":"Tijdsverschuiving τ [dagen]"},"text":{"field":"t"}}}
    ]},
    {"width":169,"height":139,"title":"Supermarkt/Apotheek vs ΔR","layer":[
      {"data":{"name":"grid"},"transform":[{"filter":"datum.p==='S'"},{"flatten":["x","r"]}],
       "mark":{"type":"rect"},
       "encoding":{
         "x":{"field":"x","type":"quantitative","title":"Middelingsperiode [dagen]","scale":{"domain":[1,14],"nice":false,"zero":false},"axis":{"values":[5,10],"labelOverlap":false}},
         "y":{"field":"y","type":"quantitative","title":"Tijdsverschuiving τ [dagen]","scale":{"domain":[-7,2],"nice":false,"zero":false},"axis":{"values":[-6,-4,-2,0,2],"labelOverlap":false,"tickCount":5}},
         "color":{"field":"r","type":"quantitative","scale":{"scheme":"redblue","domain":[-1,1]},"legend":{"type":"gradient","title":"correlatiecoëfficiënt","values":[-1,-0.8,-0.6,-0.4,-0.2,0,0.2,0.4,0.6,0.8],"format":".1f","encode":{"title":{"update":{"angle":{"value":-90},"baseline":{"value":"top"}}}}}}}},
      {"data":{"name":"ann"},"transform":[{"filter":"datum.p==='S'"}],"mark":{"type":"point","shape":"circle","size":14,"filled":false,"color":"#262626","strokeWidth":1,"opacity":1},
       "encoding":{"x":{"field":"x","type":"quantitative","title":"Middelingsperiode [dagen]"},"y":{"field":"y","type":"quantitative","title":"Tijdsverschuiving τ [dagen]"}}},
      {"data":{"name":"ann"},"transform":[{"filter":"datum.p==='S'"}],"mark":{"type":"text","dy":-9,"fontSize":11.5,"color":"#262626"},
       "encoding":{"x":{"field":"x","type":"quantitative","title":"Middelingsperiode [dagen]"},"y":{"field":"y","type":"quantitative","title":"Tijdsverschuiving τ [dagen]"},"text":{"field":"t"}}}
    ]},
    {"width":169,"height":139,"title":"Detailhandel/Recreatie vs ΔR","layer":[
      {"data":{"name":"grid"},"transform":[{"filter":"datum.p==='D'"},{"flatten":["x","r"]}],
       "mark":{"type":"rect"},
       "encoding":{
         "x":{"field":"x","type":"quantitative","title":"Middelingsperiode [dagen]","scale":{"domain":[1,14],"nice":false,"zero":false},"axis":{"values":[5,10],"labelOverlap":false}},
         "y":{"field":"y","type":"quantitative","title":"Tijdsverschuiving τ [dagen]","scale":{"domain":[-7,2],"nice":false,"zero":false},"axis":{"values":[-6,-4,-2,0,2],"labelOverlap":false,"tickCount":5}},
         "color":{"field":"r","type":"quantitative","scale":{"scheme":"redblue","domain":[-1,1]},"legend":{"type":"gradient","title":"correlatiecoëfficiënt","values":[-1,-0.8,-0.6,-0.4,-0.2,0,0.2,0.4,0.6,0.8],"format":".1f","encode":{"title":{"update":{"angle":{"value":-90},"baseline":{"value":"top"}}}}}}}},
      {"data":{"name":"ann"},"transform":[{"filter":"datum.p==='D'"}],"mark":{"type":"point","shape":"circle","size":14,"filled":false,"color":"#262626","strokeWidth":1,"opacity":1},
       "encoding":{"x":{"field":"x","type":"quantitative","title":"Middelingsperiode [dagen]"},"y":{"field":"y","type":"quantitative","title":"Tijdsverschuiving τ [dagen]"}}},
      {"data":{"name":"ann"},"transform":[{"filter":"datum.p==='D'"}],"mark":{"type":"text","dy":-9,"fontSize":11.5,"color":"#262626"},
       "encoding":{"x":{"field":"x","type":"quantitative","title":"Middelingsperiode [dagen]"},"y":{"field":"y","type":"quantitative","title":"Tijdsverschuiving τ [dagen]"},"text":{"field":"t"}}}
    ]},
    {"width":169,"height":139,"title":"Parken vs ΔR","layer":[
      {"data":{"name":"grid"},"transform":[{"filter":"datum.p==='P'"},{"flatten":["x","r"]}],
       "mark":{"type":"rect"},
       "encoding":{
         "x":{"field":"x","type":"quantitative","title":"Middelingsperiode [dagen]","scale":{"domain":[1,14],"nice":false,"zero":false},"axis":{"values":[5,10],"labelOverlap":false}},
         "y":{"field":"y","type":"quantitative","title":"Tijdsverschuiving τ [dagen]","scale":{"domain":[-7,2],"nice":false,"zero":false},"axis":{"values":[-6,-4,-2,0,2],"labelOverlap":false,"tickCount":5}},
         "color":{"field":"r","type":"quantitative","scale":{"scheme":"redblue","domain":[-1,1]},"legend":{"type":"gradient","title":"correlatiecoëfficiënt","values":[-1,-0.8,-0.6,-0.4,-0.2,0,0.2,0.4,0.6,0.8],"format":".1f","encode":{"title":{"update":{"angle":{"value":-90},"baseline":{"value":"top"}}}}}}}},
      {"data":{"name":"ann"},"transform":[{"filter":"datum.p==='P'"}],"mark":{"type":"point","shape":"circle","size":14,"filled":false,"color":"#262626","strokeWidth":1,"opacity":1},
       "encoding":{"x":{"field":"x","type":"quantitative","title":"Middelingsperiode [dagen]"},"y":{"field":"y","type":"quantitative","title":"Tijdsverschuiving τ [dagen]"}}},
      {"data":{"name":"ann"},"transform":[{"filter":"datum.p==='P'"}],"mark":{"type":"text","dy":-9,"fontSize":11.5,"color":"#262626"},
       "encoding":{"x":{"field":"x","type":"quantitative","title":"Middelingsperiode [dagen]"},"y":{"field":"y","type":"quantitative","title":"Tijdsverschuiving τ [dagen]"},"text":{"field":"t"}}}
    ]},
    {"width":169,"height":139,"title":"Bezoekers vs ΔR","layer":[
      {"data":{"name":"grid"},"transform":[{"filter":"datum.p==='B'"},{"flatten":["x","r"]}],
       "mark":{"type":"rect"},
       "encoding":{
         "x":{"field":"x","type":"quantitative","title":"Middelingsperiode [dagen]","scale":{"domain":[1,14],"nice":false,"zero":false},"axis":{"values":[5,10],"labelOverlap":false}},
         "y":{"field":"y","type":"quantitative","title":"Tijdsverschuiving τ [dagen]","scale":{"domain":[-7,2],"nice":false,"zero":false},"axis":{"values":[-6,-4,-2,0,2],"labelOverlap":false,"tickCount":5}},
         "color":{"field":"r","type":"quantitative","scale":{"scheme":"redblue","domain":[-1,1]},"legend":{"type":"gradient","title":"correlatiecoëfficiënt","values":[-1,-0.8,-0.6,-0.4,-0.2,0,0.2,0.4,0.6,0.8],"format":".1f","encode":{"title":{"update":{"angle":{"value":-90},"baseline":{"value":"top"}}}}}}}},
      {"data":{"name":"ann"},"transform":[{"filter":"datum.p==='B'"}],"mark":{"type":"point","shape":"circle","size":14,"filled":false,"color":"#262626","strokeWidth":1,"opacity":1},
       "encoding":{"x":{"field":"x","type":"quantitative","title":"Middelingsperiode [dagen]"},"y":{"field":"y","type":"quantitative","title":"Tijdsverschuiving τ [dagen]"}}},
      {"data":{"name":"ann"},"transform":[{"filter":"datum.p==='B'"}],"mark":{"type":"text","dy":-9,"fontSize":11.5,"color":"#262626"},
       "encoding":{"x":{"field":"x","type":"quantitative","title":"Middelingsperiode [dagen]"},"y":{"field":"y","type":"quantitative","title":"Tijdsverschuiving τ [dagen]"},"text":{"field":"t"}}}
    ]}
  ]
}
